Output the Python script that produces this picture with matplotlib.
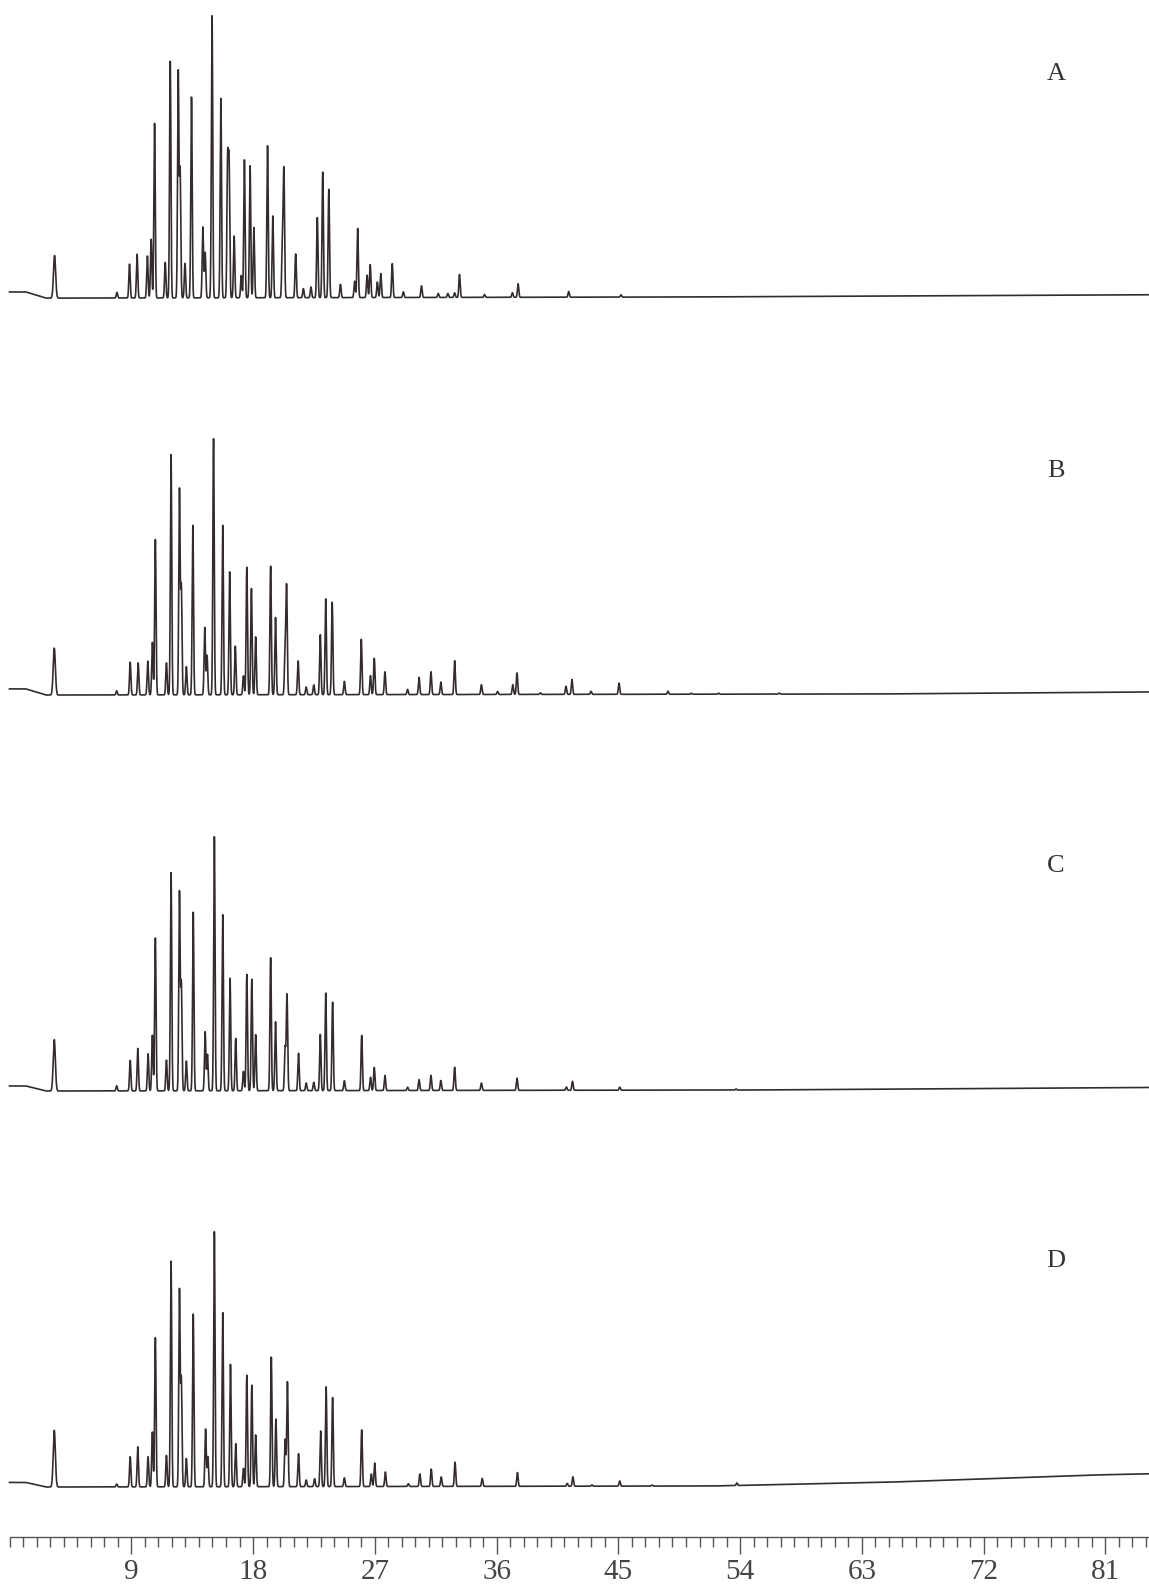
import numpy as np
import matplotlib
matplotlib.use('Agg')
import matplotlib.pyplot as plt

# retention times (min) and relative heights
a_rt = [3.33, 7.94, 8.87, 9.43, 10.19, 10.47, 10.72, 11.51, 11.88, 12.47, 12.61, 12.97, 13.45,
        14.29, 14.46, 14.97, 15.62, 16.12, 16.23, 16.60, 17.13, 17.36, 17.78, 18.06, 19.07, 19.46,
        20.17, 20.28, 21.15, 21.72, 22.28, 22.75, 23.15, 23.60, 24.46, 25.51, 25.73, 26.43, 26.66,
        27.19, 27.44, 28.29, 29.11, 30.45, 31.69, 32.40, 32.90, 33.26, 35.11, 37.17, 37.59, 41.33, 45.2]
a_h = [0.151, 0.02, 0.12, 0.155, 0.149, 0.208, 0.619, 0.126, 0.839, 0.80, 0.45, 0.122, 0.712,
       0.251, 0.161, 1.0, 0.707, 0.478, 0.466, 0.219, 0.079, 0.489, 0.468, 0.249, 0.539, 0.29,
       0.19, 0.448, 0.155, 0.032, 0.038, 0.284, 0.445, 0.384, 0.047, 0.058, 0.245, 0.079, 0.117,
       0.055, 0.085, 0.12, 0.02, 0.041, 0.014, 0.014, 0.016, 0.081, 0.01, 0.016, 0.048, 0.02, 0.008]

b_rt = [3.31, 7.92, 8.92, 9.51, 10.22, 10.56, 10.78, 11.60, 11.94, 12.56, 12.70, 13.07, 13.55,
        14.43, 14.60, 15.08, 15.76, 16.27, 16.69, 17.29, 17.54, 17.88, 18.19, 19.30, 19.66, 20.37,
        20.48, 21.33, 21.93, 22.49, 22.97, 23.37, 23.85, 24.75, 26.00, 26.68, 26.96, 27.75, 29.42,
        30.27, 31.15, 31.88, 32.90, 34.88, 36.07, 37.20, 37.51, 39.24, 41.13, 41.57, 42.98, 45.05,
        48.67, 50.4, 52.4, 56.9]
b_h = [0.183, 0.016, 0.128, 0.125, 0.132, 0.205, 0.607, 0.125, 0.938, 0.80, 0.42, 0.110, 0.662,
       0.263, 0.154, 1.0, 0.662, 0.480, 0.190, 0.074, 0.498, 0.415, 0.226, 0.502, 0.302, 0.168,
       0.419, 0.132, 0.030, 0.038, 0.234, 0.374, 0.361, 0.052, 0.216, 0.074, 0.142, 0.089, 0.020,
       0.067, 0.089, 0.049, 0.132, 0.038, 0.012, 0.038, 0.084, 0.006, 0.032, 0.058, 0.012, 0.044,
       0.012, 0.004, 0.004, 0.004]

c_rt = [3.31, 7.92, 8.92, 9.48, 10.24, 10.56, 10.78, 11.60, 11.94, 12.56, 12.70, 13.07, 13.58,
        14.46, 14.63, 15.14, 15.76, 16.30, 16.72, 17.29, 17.54, 17.91, 18.19, 19.30, 19.66, 20.37,
        20.51, 21.36, 21.93, 22.49, 22.97, 23.37, 23.88, 24.75, 26.03, 26.68, 26.96, 27.75, 29.42,
        30.27, 31.15, 31.88, 32.90, 34.88, 37.51, 41.16, 41.61, 45.1, 53.7]
c_h = [0.202, 0.02, 0.120, 0.167, 0.146, 0.219, 0.602, 0.121, 0.859, 0.78, 0.42, 0.117, 0.703,
       0.232, 0.143, 1.0, 0.693, 0.443, 0.206, 0.076, 0.458, 0.439, 0.221, 0.523, 0.271, 0.169,
       0.378, 0.147, 0.03, 0.033, 0.221, 0.384, 0.348, 0.039, 0.217, 0.052, 0.091, 0.059, 0.013,
       0.043, 0.059, 0.039, 0.091, 0.029, 0.048, 0.013, 0.035, 0.012, 0.004]

d_rt = [3.31, 7.92, 8.92, 9.48, 10.24, 10.56, 10.78, 11.60, 11.94, 12.56, 12.70, 13.07, 13.58,
        14.49, 14.66, 15.14, 15.76, 16.33, 16.72, 17.29, 17.54, 17.91, 18.19, 19.35, 19.69, 20.37,
        20.54, 21.36, 21.93, 22.55, 23.00, 23.40, 23.88, 24.75, 26.03, 26.74, 26.99, 27.78, 29.48,
        30.33, 31.17, 31.91, 32.93, 34.94, 37.54, 41.22, 41.64, 43.05, 45.1, 47.5, 53.76]
d_h = [0.222, 0.011, 0.118, 0.157, 0.118, 0.215, 0.585, 0.123, 0.885, 0.77, 0.42, 0.111, 0.677,
       0.226, 0.118, 1.0, 0.683, 0.48, 0.169, 0.072, 0.437, 0.398, 0.203, 0.508, 0.265, 0.185,
       0.411, 0.129, 0.026, 0.031, 0.218, 0.391, 0.349, 0.034, 0.222, 0.049, 0.092, 0.057, 0.011,
       0.049, 0.068, 0.037, 0.095, 0.031, 0.054, 0.011, 0.037, 0.005, 0.02, 0.004, 0.01]

# baseline drift knots (time, level)
a_base_t = [0.0, 1.2, 2.7, 50.0, 84.3]
a_base_y = [0.018, 0.018, -0.004, 0.0, 0.008]
b_base_t = [0.0, 1.2, 2.7, 64.0, 84.3]
b_base_y = [0.02, 0.02, -0.004, 0.0, 0.008]
c_base_t = [0.0, 1.2, 2.7, 55.0, 84.3]
c_base_y = [0.016, 0.016, -0.004, 0.0, 0.01]
d_base_t = [0.0, 1.2, 2.7, 52.0, 65.0, 80.0, 84.3]
d_base_y = [0.014, 0.014, -0.004, 0.0, 0.015, 0.043, 0.048]

labels = ["A", "B", "C", "D"]
major_ticks = [9, 18, 27, 36, 45, 54, 63, 72, 81]

W, H = 1149, 1585
fig = plt.figure(figsize=(W / 100, H / 100), dpi=100)
col = "#342c2c"
x0_px = 9.5
xmax = (W - x0_px) / 13.53
t = np.arange(0.0, xmax, 0.01)

# (times, heights, baseline knots, baseline px, top px, label px)
panels = [
    (a_rt, a_h, a_base_t, a_base_y, 297, 15, 74),
    (b_rt, b_h, b_base_t, b_base_y, 694, 438, 471),
    (c_rt, c_h, c_base_t, c_base_y, 1090, 836, 866),
    (d_rt, d_h, d_base_t, d_base_y, 1486, 1231, 1261),
]

for i, (rt, hh, bt, by, base_px, top_px, lab_px) in enumerate(panels):
    span = base_px - top_px
    ax = fig.add_axes([x0_px / W, 1 - (base_px + 0.05 * span) / H, 1 - x0_px / W, 1.05 * span / H])
    y = np.interp(t, bt, by)
    for r, h in zip(rt, hh):
        sig = 0.08 if r < 4 else 0.05
        y = y + h * np.exp(-0.5 * ((t - r) / sig) ** 2)
    ax.plot(t, y, color=col, lw=1.2, clip_on=False)
    ax.set_xlim(0, xmax)
    ax.set_ylim(-0.05, 1.0)
    ax.axis("off")
    fig.text(1056 / W, 1 - lab_px / H, labels[i], ha="center", va="center",
             fontsize=19, family="Liberation Serif", color="#333333")

# shared time axis at the bottom
axis_px = 1537
tax = fig.add_axes([x0_px / W, 1 - axis_px / H, 1 - x0_px / W, 0.0001])
tax.set_xlim(0, xmax)
for s in ["top", "left", "right"]:
    tax.spines[s].set_visible(False)
tax.spines["bottom"].set_color("#555555")
tax.spines["bottom"].set_linewidth(1.0)
tax.set_yticks([])
tax.set_xticks(major_ticks)
tax.set_xticks(np.arange(0, 85, 1), minor=True)
tax.tick_params(axis="x", which="major", direction="out", length=12.5, width=1.0, color="#555555",
                pad=3, labelsize=21, labelcolor="#444444")
tax.tick_params(axis="x", which="minor", direction="out", length=7.5, width=1.0, color="#555555")
for lbl in tax.get_xticklabels():
    lbl.set_family("Liberation Serif")

fig.savefig("out.png", dpi=100)
